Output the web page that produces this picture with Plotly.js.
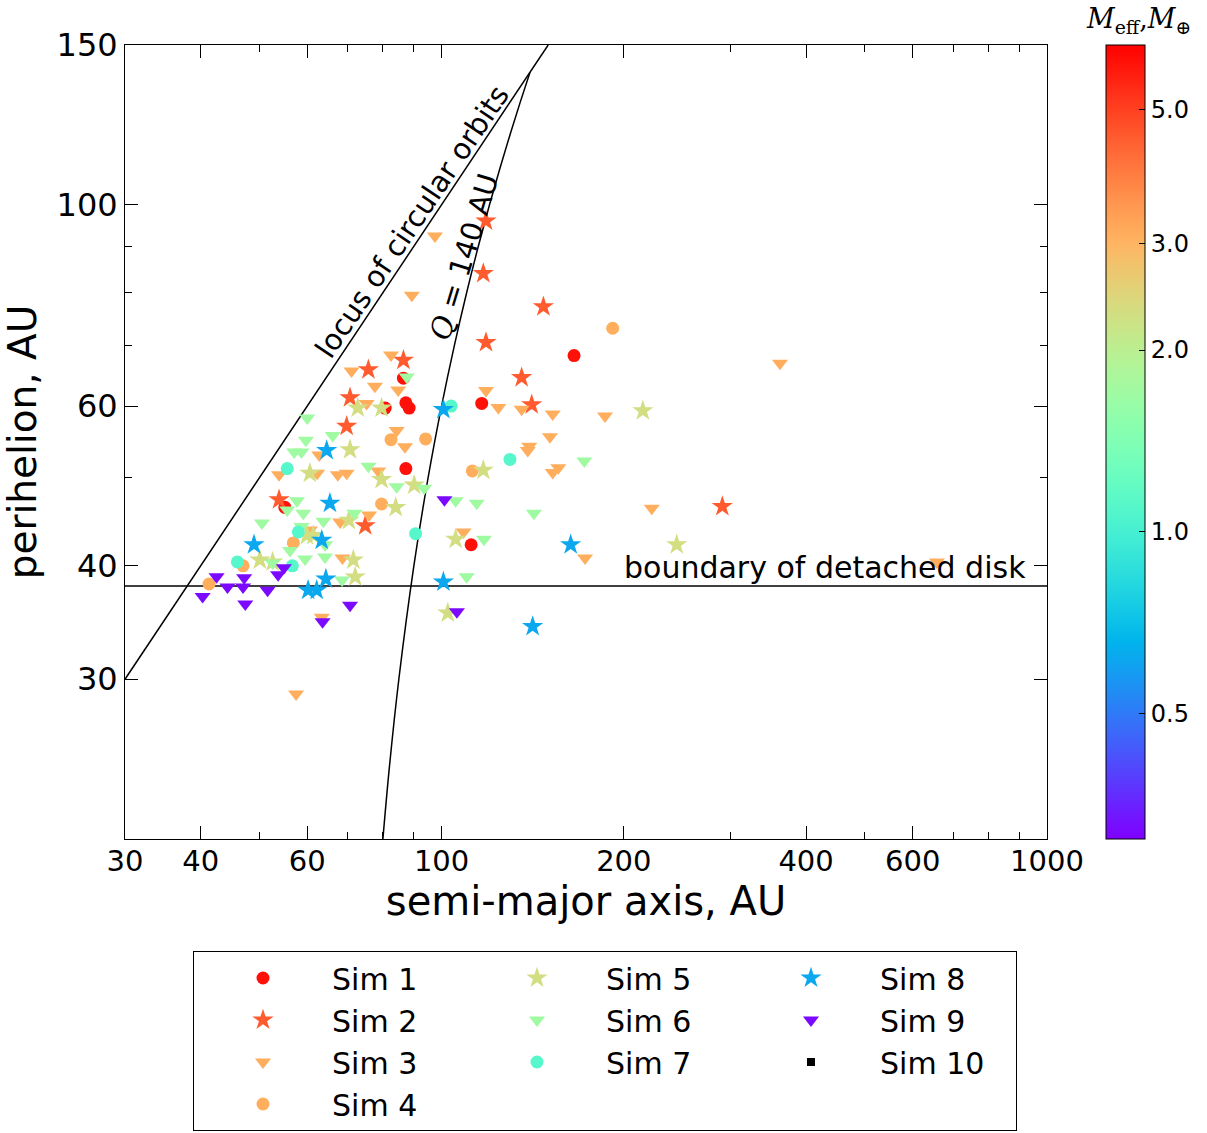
<!DOCTYPE html>
<html><head><meta charset="utf-8">
<script src="https://cdn.plot.ly/plotly-3.0.1.min.js"></script>
<style>body{margin:0;background:#fff}#chart{width:1207px;height:1133px}</style>
</head><body><div id="chart"></div>
<script>
// ---- data (semi-major axis a [AU], perihelion q [AU]) ----
const simNames = ["Sim 1","Sim 2","Sim 3","Sim 4","Sim 5","Sim 6","Sim 7","Sim 8","Sim 9","Sim 10"];
const simMass  = [6.0, 4.5, 3.1, 3.1, 2.3, 1.7, 1.1, 0.62, 0.32, null]; // M_eff in Earth masses
const simSymbols = ["circle","star","triangle-down","circle","star","triangle-down","circle","star","triangle-down","square"];

const sim1A = [86.5, 80.7, 87.3, 88.4, 116.5, 87.3, 55.1, 165.5, 111.9];
const sim1Q = [64.4, 59.7, 60.5, 59.7, 60.4, 51.2, 46.4, 68.2, 42.2];
const sim2A = [86.5, 75.7, 70.6, 69.7, 74.8, 53.9, 118.4, 117.2, 147.3, 118.4, 135.6, 140.9, 290.9];
const sim2Q = [67.4, 65.8, 61.3, 57.0, 44.3, 47.3, 96.0, 84.0, 77.2, 70.5, 64.5, 60.2, 46.5];
const sim3A = [82.5, 71.0, 77.6, 84.8, 75.2, 84.3, 87.0, 78.6, 67.4, 69.7, 62.8, 53.9, 62.3, 75.9, 68.0, 60.6, 68.6, 63.4, 57.5, 97.5, 89.3, 118.4, 124.1, 135.6, 152.6, 186.2, 151.0, 139.6, 138.8, 155.9, 152.6, 222.4, 172.6, 108.7, 362.2, 657.7];
const sim3Q = [68.3, 65.6, 63.1, 62.5, 60.4, 56.4, 54.1, 50.9, 50.4, 50.6, 53.0, 50.4, 50.6, 45.5, 44.7, 43.8, 40.8, 35.1, 28.9, 92.4, 79.5, 62.4, 59.8, 59.5, 58.8, 58.5, 55.5, 54.2, 53.6, 51.3, 50.7, 46.3, 40.8, 43.6, 66.9, 40.4];
const sim4A = [82.5, 94.1, 112.4, 79.6, 56.9, 47.0, 41.3, 191.7];
const sim4Q = [55.1, 55.2, 50.9, 46.8, 42.4, 40.0, 38.2, 73.1];
const sim5A = [72.7, 79.6, 60.6, 70.6, 79.6, 90.1, 84.0, 70.3, 59.9, 61.4, 50.1, 52.6, 71.5, 72.0, 105.5, 117.2, 102.4, 215.0, 244.6];
const sim5Q = [59.7, 59.7, 50.6, 53.7, 49.8, 49.1, 46.4, 44.9, 43.2, 43.2, 40.6, 40.4, 40.6, 38.9, 42.8, 51.0, 35.5, 59.3, 42.2];
const sim6A = [60.0, 59.7, 66.1, 57.1, 58.7, 87.6, 75.7, 84.3, 93.6, 57.7, 55.6, 59.1, 50.5, 63.8, 58.7, 64.2, 56.2, 59.5, 64.2, 52.6, 68.5, 105.5, 114.3, 117.5, 110.0, 172.1, 142.1, 71.8];
const sim6Q = [58.2, 55.0, 55.7, 53.4, 53.4, 64.6, 51.5, 48.9, 48.7, 47.2, 46.1, 45.7, 44.6, 44.8, 44.2, 42.2, 41.6, 40.7, 40.9, 40.3, 38.6, 47.2, 46.9, 42.8, 38.9, 52.2, 45.7, 45.7];
const sim7A = [55.6, 58.0, 46.0, 56.7, 103.7, 129.7, 90.6];
const sim7Q = [51.2, 43.6, 40.4, 40.0, 60.0, 52.4, 43.4];
const sim8A = [64.6, 100.7, 65.4, 49.0, 63.4, 64.4, 60.2, 62.2, 100.7, 163.4, 141.4];
const sim8Q = [53.6, 59.5, 46.9, 42.2, 42.7, 38.7, 37.6, 37.6, 38.4, 42.2, 34.3];
const sim9A = [54.9, 53.7, 42.5, 44.3, 47.2, 47.0, 51.6, 40.3, 47.4, 63.6, 70.6, 101.1, 106.0];
const sim9Q = [39.8, 39.1, 38.9, 37.9, 38.8, 37.9, 37.6, 37.0, 36.3, 34.7, 36.2, 47.3, 35.6];
const sim10A = [null];   // Sim 10 has no objects in the plotted range (legend entry only)
const sim10Q = [null];

// reference curves
const circA = [30, 150];
const circQ = [30, 150];
const aphA = [80, 82, 85, 90, 95, 100, 105, 110, 115, 120, 125, 130, 135, 140];
const aphQ = [20, 24, 30, 40, 50, 60, 70, 80, 90, 100, 110, 120, 130, 140];
const detA = [30, 1000];
const detQ = [38, 38];

const xTickVals = [30, 40, 60, 100, 200, 400, 600, 1000];
const xMinorVals = [50, 70, 80, 90, 300, 500, 700, 800, 900];
const yTickVals = [30, 40, 60, 100, 150];
const yMinorVals = [50, 70, 80, 90];
const cbTickVals = [0.5, 1.0, 2.0, 3.0, 5.0];
const cbTickText = ["0.5", "1.0", "2.0", "3.0", "5.0"];
const cbMin = 0.31, cbMax = 6.4;

// matplotlib "rainbow" colormap
function rainbow(t){
  const r = Math.min(1, Math.abs(2*t - 0.5));
  const g = Math.sin(Math.PI*t);
  const b = Math.cos(Math.PI*t/2);
  const c = v => Math.round(Math.max(0, Math.min(1, v))*255);
  return `rgb(${c(r)},${c(g)},${c(b)})`;
}
const colorscale = [];
for (let i = 0; i <= 40; i++) colorscale.push([i/40, rainbow(i/40)]);

const simA = [sim1A, sim2A, sim3A, sim4A, sim5A, sim6A, sim7A, sim8A, sim9A, sim10A];
const simQ = [sim1Q, sim2Q, sim3Q, sim4Q, sim5Q, sim6Q, sim7Q, sim8Q, sim9Q, sim10Q];
const legendRanks = [1, 4, 7, 10, 2, 5, 8, 3, 6, 9];
const symSizes = {"circle": 13, "star": 16, "triangle-down": 14, "square": 8};

const FONT = "DejaVu Sans, Verdana, sans-serif";
const traces = [];
traces.push({x: circA, y: circQ, mode: "lines", line: {color: "black", width: 1.5}, showlegend: false, hoverinfo: "skip"});
traces.push({x: aphA, y: aphQ, mode: "lines", line: {color: "black", width: 1.5, shape: "spline"}, showlegend: false, hoverinfo: "skip"});
traces.push({x: detA, y: detQ, mode: "lines", line: {color: "black", width: 1.5}, showlegend: false, hoverinfo: "skip"});

for (let i = 0; i < 10; i++) {
  const m = simMass[i];
  const marker = {symbol: simSymbols[i], size: symSizes[simSymbols[i]], line: {width: 0}};
  if (m === null) {
    marker.color = "black";
  } else {
    marker.color = simA[i].map(() => Math.log10(m));
    marker.colorscale = colorscale;
    marker.cmin = Math.log10(cbMin);
    marker.cmax = Math.log10(cbMax);
    marker.showscale = (i === 0);
    if (i === 0) {
      marker.colorbar = {
        x: (1106 - 125) / 922, xanchor: "left", xpad: 0,
        y: 0.5, yanchor: "middle", len: 1, lenmode: "fraction", ypad: 0,
        thickness: 39, thicknessmode: "pixels",
        outlinecolor: "black", outlinewidth: 1,
        tickmode: "array", tickvals: cbTickVals.map(v => Math.log10(v)), ticktext: cbTickText,
        ticks: "inside", ticklen: 6, tickcolor: "black",
        tickfont: {family: FONT, size: 24, color: "black"}
      };
    }
  }
  traces.push({
    x: simA[i], y: simQ[i], name: simNames[i], mode: "markers", type: "scatter",
    marker: marker, legendrank: legendRanks[i]
  });
}

const layout = {
  width: 1207, height: 1133,
  margin: {l: 125, r: 160, t: 45, b: 294, autoexpand: false},
  paper_bgcolor: "white", plot_bgcolor: "white",
  font: {family: FONT, color: "black"},
  xaxis: {
    type: "log", range: [Math.log10(30), Math.log10(1000)],
    tickmode: "array", tickvals: xTickVals, ticktext: xTickVals.map(String),
    ticks: "inside", ticklen: 13, tickwidth: 1, tickcolor: "black",
    minor: {tickmode: "array", tickvals: xMinorVals, ticks: "inside", ticklen: 7, tickcolor: "black", showgrid: false},
    showline: true, linecolor: "black", linewidth: 1, mirror: "ticks",
    showgrid: false, zeroline: false, ticklabelstandoff: -4,
    tickfont: {family: FONT, size: 29, color: "black"},
    title: {text: "semi-major axis, AU", font: {family: FONT, size: 40, color: "black"}, standoff: 0}
  },
  yaxis: {
    type: "log", range: [Math.log10(20), Math.log10(150)],
    tickmode: "array", tickvals: yTickVals, ticktext: yTickVals.map(String),
    ticks: "inside", ticklen: 13, tickwidth: 1, tickcolor: "black",
    minor: {tickmode: "array", tickvals: yMinorVals, ticks: "inside", ticklen: 7, tickcolor: "black", showgrid: false},
    showline: true, linecolor: "black", linewidth: 1, mirror: "ticks",
    showgrid: false, zeroline: false,
    tickfont: {family: FONT, size: 32, color: "black"},
    title: {text: "perihelion, AU", font: {family: FONT, size: 39, color: "black"}, standoff: 8}
  },
  legend: {
    orientation: "h", x: (193 - 125) / 922, xanchor: "left", y: (839 - 951) / 794, yanchor: "top",
    bgcolor: "white", bordercolor: "black", borderwidth: 1,
    font: {family: FONT, size: 30, color: "black"},
    itemwidth: 128, entrywidth: 131, entrywidthmode: "pixels", traceorder: "normal"
  },
  annotations: [
    {xref: "paper", yref: "paper", x: (412 - 125) / 922, y: (839 - 222) / 794, xanchor: "center", yanchor: "middle",
     text: "locus of circular orbits",
     showarrow: false, textangle: -56, font: {family: FONT, size: 29, color: "black"}},
    {xref: "paper", yref: "paper", x: (464 - 125) / 922, y: (839 - 257) / 794, xanchor: "center", yanchor: "middle",
     text: "<span style='font-family:DejaVu Serif'><i>Q</i></span> = 140 AU",
     showarrow: false, textangle: -73, font: {family: FONT, size: 29, color: "black"}},
    {xref: "paper", yref: "paper", x: (825 - 125) / 922, y: (839 - 567) / 794, xanchor: "center", yanchor: "middle",
     text: "boundary of detached disk",
     showarrow: false, font: {family: FONT, size: 30, color: "black"}},
    {xref: "paper", yref: "paper", x: (1138 - 125) / 922, y: (839 - 20) / 794, xanchor: "center", yanchor: "middle",
     text: "<i>M</i><sub>eff</sub>,<i>M</i><sub>⊕</sub>",
     showarrow: false, font: {family: "DejaVu Serif, Liberation Serif, serif", size: 27, color: "black"}}
  ]
};

Plotly.newPlot("chart", traces, layout, {displayModeBar: false, staticPlot: true});
</script>
</body></html>
